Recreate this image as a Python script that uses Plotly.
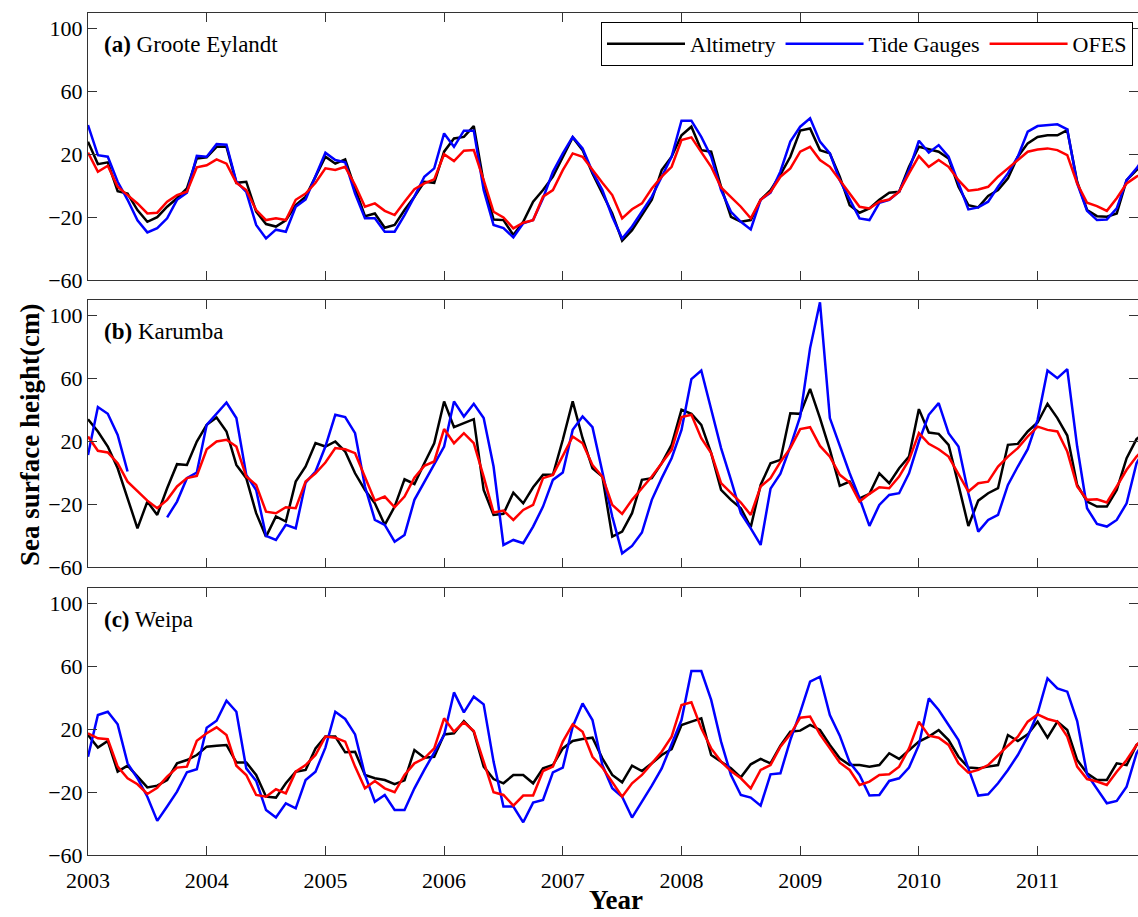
import plotly.graph_objects as go

# monthly samples Jan 2003 .. Dec 2011
n_months = 108
time = [2003 + i / 12 for i in range(n_months)]

series_names = ["Altimetry", "Tide Gauges", "OFES"]
panel_titles = ["Groote Eylandt", "Karumba", "Weipa"]
panel_tags = ["(a)", "(b)", "(c)"]
year_ticks = [2003, 2004, 2005, 2006, 2007, 2008, 2009, 2010, 2011]
y_ticks = [-60, -20, 20, 60, 100]

# ---- (a) Groote Eylandt ----
alt_a = [28, 13.7, 14.8, -3.5, -5, -15.5, -23, -20, -13.4, -8, -1.8, 17.3,
         18, 24.7, 24.7, 1.8, 2.5, -16.6, -24.4, -26, -22, -12.4, -7, 5.7,
         18.4, 14, 16.7, -1.8, -19.4, -17.7, -26.8, -25, -15.5, -7, 2.5, 1.8,
         21.6, 30, 31, 37.9, 2, -21.5, -21.9, -31.4, -23, -10.2, -2.8, 5.7,
         18.4, 30.7, 22.6, 7.8, -5, -17.7, -35, -28.3, -18.7, -9, 9.9, 18.4,
         32, 37.5, 22.6, 21.6, -0.7, -19.8, -23, -21.9, -9, -2.8, 7, 18.4,
         35, 36.4, 22.6, 20.5, 5.7, -12.4, -17.2, -14.5, -9, -4.5, -3.9, 12,
         24.7, 23, 21.6, 17.3, -0.7, -12.4, -13.8, -6.6, -2.8, 4.6, 18.4, 26.9,
         31, 32, 32, 35.3, 2.5, -15.5, -19.4, -19.8, -17.7, 3.5, 9.9, 14]
tg_a = [38.5, 19.4, 18.4, 2.5, -9, -22, -29.7, -27, -20.8, -9, -4.5, 18.9,
        18.4, 26.4, 26, 2.5, -3.9, -25, -33.6, -28, -29.3, -13.4, -8.8, 5.7,
        21, 16.3, 14.8, -5, -20.8, -20.8, -29.3, -29.3, -18.7, -7, 5.7, 11,
        33.2, 24.7, 35, 35, -2.8, -25, -27, -32.9, -24, -21.9, -8, 8.8,
        20.5, 31, 23.7, 8.8, -2.8, -19.8, -33.6, -26, -16.6, -7, 5.7, 18.4,
        41.3, 41.3, 31, 18.4, -2.8, -16.6, -23, -27.8, -9, -4.5, 9, 28,
        37.5, 42.8, 28, 20.5, 3.5, -9, -20.8, -21.9, -10.9, -9, -3.9, 9.9,
        28.6, 21, 25.8, 18.4, 1.8, -15.1, -13.8, -10.2, -0.7, 7.8, 18.4, 34.3,
        37.9, 38.5, 39, 35.8, 1.4, -16, -21.9, -21.5, -14.5, 3.5, 11, 20]
ofes_a = [21, 8.8, 12.7, -0.7, -6, -11.3, -17.7, -17.2, -10.2, -6, -3.9, 11.7,
          13, 16.7, 14, 1.8, -2.8, -15.5, -21.9, -20.8, -21.9, -9, -5, 1.8,
          11, 10, 12, 0.4, -13.4, -11.3, -16, -18.7, -10.2, -2.2, 1.4, 4,
          20, 15.6, 22.2, 22.6, 3.5, -16.6, -20.2, -27.2, -23.6, -21.9, -7, -2.8,
          9.9, 20.5, 18.4, 9.9, 1.8, -6, -20.8, -15, -11.3, -1.8, 5.7, 12,
          29, 30.7, 21.6, 12, -1.1, -7, -13.4, -20.8, -9, -4, 5.7, 11,
          21.6, 24.7, 16.3, 12, 3.5, -5, -13.4, -14.5, -10.2, -8.8, -3.9, 7.8,
          18.8, 12, 16.3, 12, 3.5, -3.2, -2.4, -0.7, 5.7, 11, 16.3, 21.6,
          23, 23.7, 22.6, 19.4, 1.4, -10.9, -13, -16, -8, 1.4, 5.7, 8.8]

# ---- (b) Karumba ----
alt_b = [34.2, 26.4, 16.8, 3, -16.1, -35.2, -18.2, -26.7, -9.7, 5.6, 5.1, 20,
         30.6, 35.3, 26.4, 5.1, -3.3, -25.6, -40.5, -27.7, -30.9, -5.5, 4.1, 19,
         16.8, 20, 13.6, -0.2, -10.8, -19.3, -33, -21.4, -4, -7, 6.2, 18.9,
         45.5, 29.1, 31.7, 34.2, -10.8, -26.7, -26, -12.5, -19.3, -9.1, -1.2, -1.2,
         21.1, 45.5, 22.1, 3, -2.3, -40.5, -37.3, -25.6, -4.4, -3.3, 6.2, 17.9,
         40.2, 37.6, 30.6, 12.6, -10.8, -17.1, -22.4, -34.5, -7.6, 6.2, 8.3, 38,
         37.6, 53.5, 34.9, 14.7, -8.2, -5.5, -16.1, -13.3, -0.2, -6.5, 3, 10.4,
         40.6, 25.7, 24.9, 17.9, -7.6, -33.7, -17.6, -12.9, -9.7, 17.9, 18.5, 26.4,
         32.1, 44, 34.9, 23.8, -7.6, -18.2, -21.4, -21.4, -10.8, 9.4, 21.5, 27]
tg_b = [11.5, 41.9, 37.6, 24.2, 0.9, None, None, None, -28.2, -18.2, -3.3, 0.3,
        30.6, 38, 44.8, 34.9, -1.2, -10.8, -40, -42.6, -33, -35.2, -6.1, 0.9,
        16.8, 37, 35.5, 25.3, -8.6, -29.9, -33, -43.7, -39.4, -17.1, -5.5, 5.1,
        16.8, 45.5, 35.9, 44, 34.9, 4.1, -45.8, -42.6, -44.7, -34.1, -21.4, -4.4,
        0.3, 27.4, 35.9, 29.1, 0.9, -27.7, -51.1, -46.4, -37.9, -17.1, -3.3, 9.4,
        27.4, 59.7, 65.2, 41.2, 15.8, -4.4, -25.6, -35.2, -45.8, -10, -0.5, 16.8,
        35.9, 79.4, 108.5, 34.9, 16.8, -0.2, -16.1, -33.7, -20.3, -14, -12.9, -0.2,
        20, 37, 44.4, 25.3, 16.8, -12.9, -37.3, -29.9, -26.7, -7.6, 4.1, 15.1,
        33.8, 65.2, 60.3, 66, 16.8, -22.4, -32.4, -34.1, -29.9, -19.3, 6.2, 17]
ofes_b = [23.2, 14.1, 13, 6.2, -5.5, -11.8, -17.6, -22.4, -17.1, -8.6, -3.3, -1.9,
          15.1, 20, 21.1, 16.8, -2.3, -7.6, -24.6, -25.6, -21.8, -22.4, -5.5, -0.2,
          6.6, 15.8, 15.1, 12.6, -2.3, -17.6, -15, -21.8, -15, -3, 4.5, 7.3,
          27.9, 18.9, 25.3, 18.9, -2.3, -25.2, -23.9, -29.9, -23.5, -20.3, -3.3, -1.2,
          10.9, 23.2, 18.9, 5.1, -2.3, -20.3, -26, -17.1, -9.7, -2.3, 6.2, 14.7,
          35.5, 37, 22.1, 12.6, -6.5, -12.9, -18.8, -26.7, -8.6, -3.3, 7, 15.8,
          27.9, 29.1, 17.2, 10.4, -1.2, -6.1, -18.2, -13.3, -9.1, -9.7, -2.3, 8.3,
          25.3, 18.5, 15.1, 10.4, -1.2, -11.8, -6.5, -5.5, 4.1, 10.4, 15.8, 23.2,
          29.5, 27.4, 26.4, 13.6, -8.6, -17.1, -16.7, -18.8, -8.6, 2, 10.4, 17]

# ---- (c) Weipa ----
alt_c = [16.3, 8.3, 12.5, -7, -3.2, -10.2, -17, -15.9, -12.3, -1.7, 0.4, 3.6,
         8.9, 9.5, 10, -1.1, -1.1, -9.1, -22.9, -23.5, -14.4, -7, -5.9, 7.8,
         15.3, 15.3, 5.3, 5.7, -9.1, -11.2, -12.3, -15, -12.5, 6.8, 1.9, 2.5,
         16.7, 17.4, 25.2, 18.4, -3.8, -11.7, -14.4, -9.1, -9.1, -14.4, -4.9, -2.8,
         7.8, 12.5, 13.8, 14.6, 1.5, -9.1, -13.8, -3.2, -6.6, -1.7, 3.6, 7.4,
         22.7, 24.8, 26.9, 3.6, -0.6, -4.9, -10.6, -2.3, 1.1, -1.7, 9.5, 18.4,
         19.1, 22.7, 19.5, 10, 1.5, -2.8, -2.8, -3.8, -2.8, 4.7, 1.1, 6.8,
         12.1, 15.3, 19.5, 13.1, 2.5, -4.4, -4.9, -3.8, -2.8, 16.3, 12.5, 16.7,
         24.8, 14.6, 24.8, 19.5, 0.4, -8, -12.3, -12.3, -1.7, -2.8, 10, 14]
tg_c = [2.5, 29, 31.1, 23.1, -1.7, -11.2, -22.9, -38.3, -29.2, -19.7, -7.4, -5.5,
        21, 25.4, 38.1, 31.1, -4.9, -12.9, -31.4, -36.2, -27.1, -30.3, -12.3, -7,
        8.3, 31.1, 26.5, 16.7, -9.1, -26.1, -21.8, -31.4, -31.4, -17.6, -5.9, 5.7,
        16.3, 43.4, 30.7, 40.7, 35.8, -0.6, -29.2, -29.2, -39.2, -26.7, -25, -7.4,
        -4.4, 21.6, 36.4, 25.8, -2.8, -17.6, -22.9, -36.2, -26.1, -15.9, -4.9, 11,
        25.8, 57, 57, 38.6, 12.1, -9.1, -21.8, -23.5, -28.6, -8.7, -8, 13.1,
        30.7, 50.2, 53.4, 29, 15.9, -1.1, -9.1, -22.2, -21.8, -12.9, -11.2, -4.4,
        10, 39.6, 32.2, 22.7, 13.1, -4.9, -22.2, -21.4, -14.4, -5.9, 3.6, 15.3,
        30.1, 52.3, 46, 43.9, 25.2, -8.7, -17.6, -27.1, -25.6, -16.5, 4.7, 14]
ofes_c = [17.4, 14.2, 13.6, -3.8, -11.2, -15, -21.2, -17.2, -10.2, -4.4, -3.8, 12.7,
          17.4, 21.2, 16.3, -3.2, -9.1, -21.8, -22.9, -18.2, -20.8, -7, -2.8, 3.6,
          15.3, 14.6, 12.1, -3.8, -17.6, -12.9, -17.6, -20.1, -9.1, -1.7, 1.5, 7.8,
          26.9, 18.4, 24.4, 18.9, -0.6, -20.1, -21.8, -28.6, -22.2, -22.2, -6.6, -3.8,
          12.1, 23.1, 18.4, 2.5, -4.4, -13.8, -22.9, -14.4, -9.1, -1.7, 5.7, 15.3,
          35.4, 37.1, 20.6, 7.8, -0.6, -6.6, -11.2, -17.6, -5.9, -2.8, 8.9, 16.7,
          27.3, 28, 16.7, 7.8, -1.3, -5.9, -15.5, -13.3, -9.1, -8.7, -3.8, 7.8,
          24.8, 15.9, 14.6, 10, -1.7, -7.6, -5.9, -2.8, 3.6, 9.5, 15.3, 24.8,
          29.4, 26.5, 24.8, 15.3, -3.8, -11.7, -13.3, -15.5, -7, 0.4, 10, 16]

panels = [(alt_a, tg_a, ofes_a), (alt_b, tg_b, ofes_b), (alt_c, tg_c, ofes_c)]
colors = ["#000000", "#0000FF", "#FF0000"]

W, H = 1138, 917
LEFT = 88
FONT = "Liberation Serif"
# panel vertical extents in px (top, bottom)
extents = [(12.7, 280.0), (300.0, 567.3), (587.7, 855.0)]

fig = go.Figure()
for p, data in enumerate(panels):
    ax = "" if p == 0 else str(p + 1)
    for s, vals in enumerate(data):
        fig.add_trace(go.Scatter(
            x=time, y=vals, mode="lines", name=series_names[s],
            line=dict(color=colors[s], width=2.5),
            showlegend=(p == 0), connectgaps=False,
            xaxis="x" + ax, yaxis="y" + ax))

layout = dict(
    template="none",
    width=W, height=H, autosize=False,
    margin=dict(l=LEFT, r=0, t=0, b=0, pad=0),
    paper_bgcolor="white", plot_bgcolor="white",
    font=dict(family=FONT, size=22, color="black"),
    showlegend=True,
    legend=dict(orientation="h", x=(1133 - LEFT) / (W - LEFT), xanchor="right",
                y=1 - 22 / H, yanchor="top",
                bordercolor="black", borderwidth=1, bgcolor="white",
                font=dict(family=FONT, size=22, color="black"), itemwidth=78,
                tracegroupgap=0),
)
x_end = 2003 + (W - LEFT) / 118.7
for p, (top, bot) in enumerate(extents):
    ax = "" if p == 0 else str(p + 1)
    layout["xaxis" + ax] = dict(
        domain=[0, 1], anchor="y" + ax, range=[2003, x_end], automargin=False,
        tickvals=year_ticks, ticks="inside", ticklen=9, tickcolor="#333",
        showline=True, linecolor="#333", linewidth=1, mirror="ticks",
        showgrid=False, zeroline=False, showticklabels=(p == 2),
        ticklabelstandoff=6,
        tickfont=dict(family=FONT, size=22, color="black"))
    layout["yaxis" + ax] = dict(
        domain=[1 - bot / H, 1 - top / H], anchor="x" + ax, range=[-60, 110],
        automargin=False,
        tickvals=y_ticks, ticks="inside", ticklen=9, tickcolor="#333",
        showline=True, linecolor="#333", linewidth=1, mirror="ticks",
        showgrid=False, zeroline=False,
        tickfont=dict(family=FONT, size=22, color="black"))
fig.update_layout(**layout)

annotations = []
for p in range(3):
    ax = "" if p == 0 else str(p + 1)
    annotations.append(dict(
        xref="x" + ax, yref="y" + ax, x=2003.12, y=90,
        xanchor="left", yanchor="middle", showarrow=False,
        text="<b>" + panel_tags[p] + "</b> " + panel_titles[p],
        font=dict(family=FONT, size=23, color="black")))
annotations.append(dict(
    xref="paper", yref="paper", x=(30 - LEFT) / (W - LEFT), y=1 - 435 / H,
    xanchor="center", yanchor="middle", showarrow=False, textangle=-90,
    text="<b>Sea surface height(cm)</b>",
    font=dict(family=FONT, size=27, color="black")))
annotations.append(dict(
    xref="paper", yref="paper", x=(616 - LEFT) / (W - LEFT), y=0,
    xanchor="center", yanchor="bottom", showarrow=False,
    text="<b>Year</b>", font=dict(family=FONT, size=27, color="black")))
fig.update_layout(annotations=annotations)

fig.write_html("out.html")
